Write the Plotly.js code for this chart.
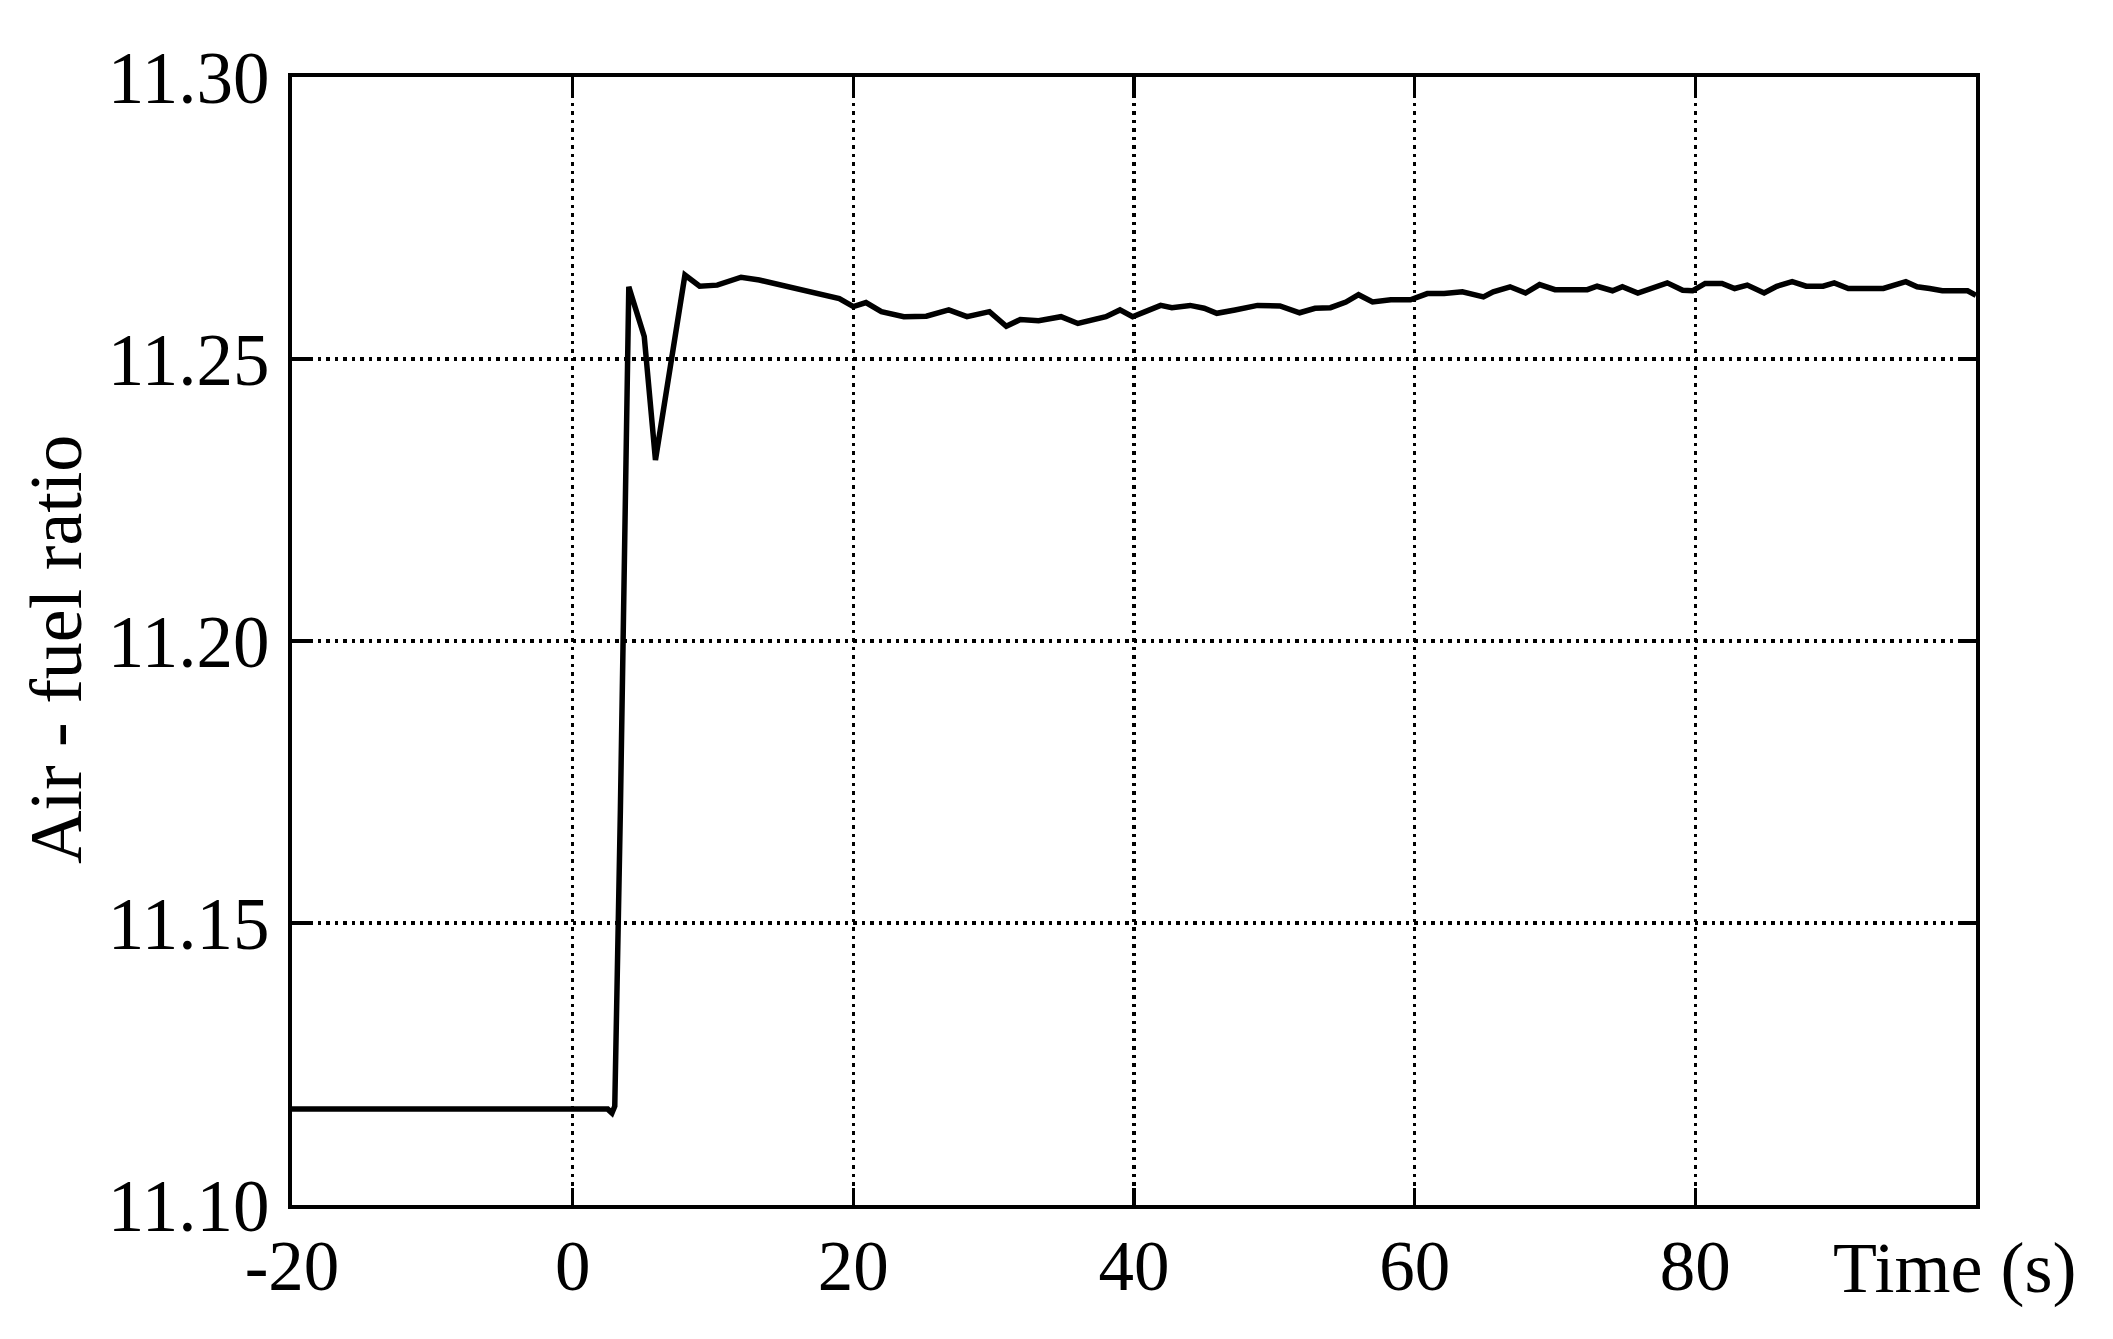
<!DOCTYPE html>
<html>
<head>
<meta charset="utf-8">
<script src="https://cdn.plot.ly/plotly-3.0.1.min.js"></script>
<style>
  html, body { margin: 0; padding: 0; background: #fff; }
  #chart { width: 2113px; height: 1339px; }
</style>
</head>
<body>
<div id="chart"></div>
<script>
var time = [-20, 2.5, 2.8, 3.0, 3.4, 3.75, 3.85, 4.0, 5.1, 5.9, 8.0, 9.05, 10.3, 12.0, 13.3,
  15.1, 16.3, 17.6, 19.0, 20.0, 20.9, 22.0, 23.6, 25.2, 26.8, 28.1, 29.7, 30.9, 31.9, 33.2,
  34.8, 36.0, 38.0, 39.0, 39.9, 40.8, 41.9, 42.7, 44.0, 45.0, 45.9, 47.2, 48.8, 50.4, 51.8,
  52.9, 54.0, 55.1, 56.0, 57.0, 58.3, 59.7, 60.9, 62.1, 63.4, 64.9, 65.6, 66.8, 67.9, 68.9,
  70.0, 72.3, 73.0, 74.1, 74.8, 75.9, 77.1, 78.0, 79.1, 79.8, 80.7, 81.9, 82.8, 83.7, 84.9,
  85.8, 86.9, 87.9, 89.1, 89.9, 90.9, 93.4, 95.0, 95.8, 96.7, 97.6, 99.4, 100.0];

var afr = [11.117, 11.117, 11.1163, 11.1175, 11.17, 11.225, 11.252, 11.2628, 11.254, 11.2321,
  11.2649, 11.2629, 11.2631, 11.2645, 11.264, 11.263, 11.2622, 11.2616, 11.2607, 11.2593,
  11.2600, 11.2584, 11.2575, 11.2576, 11.2587, 11.2575, 11.2584, 11.2558, 11.2570, 11.2568,
  11.2575, 11.2563, 11.2575, 11.2587, 11.2575, 11.2584, 11.2595, 11.2591, 11.2595, 11.2590,
  11.2581, 11.2587, 11.2595, 11.2594, 11.2582, 11.2590, 11.2591, 11.2601, 11.2614, 11.2601,
  11.2605, 11.2605, 11.2616, 11.2616, 11.2619, 11.2610, 11.2619, 11.2628, 11.2617, 11.2632,
  11.2623, 11.2623, 11.2629, 11.2621, 11.2628, 11.2617, 11.2628, 11.2635, 11.2622, 11.2621,
  11.2634, 11.2634, 11.2625, 11.2631, 11.2617, 11.2629, 11.2637, 11.2629, 11.2629, 11.2635,
  11.2625, 11.2625, 11.2637, 11.2628, 11.2625, 11.2621, 11.2621, 11.2613];

var xTicks = [-20, 0, 20, 40, 60, 80];
var xLabels = ['-20', '0', '20', '40', '60', '80'];
var yTicks = [11.10, 11.15, 11.20, 11.25, 11.30];

var serif = 'Liberation Serif, Times New Roman, serif';

var trace = {
  x: time,
  y: afr,
  type: 'scatter',
  mode: 'lines',
  line: { color: '#000', width: 5.5 },
  hoverinfo: 'x+y'
};

var layout = {
  width: 2113,
  height: 1339,
  margin: { l: 292, r: 137, t: 77, b: 134 },
  paper_bgcolor: '#fff',
  plot_bgcolor: '#fff',
  showlegend: false,
  font: { family: serif, size: 70, color: '#000' },
  xaxis: {
    range: [-20, 100],
    tickvals: xTicks,
    ticktext: xLabels,
    ticks: 'inside',
    ticklen: 17,
    tickwidth: 3.5,
    tickcolor: '#000',
    showline: true,
    linecolor: '#000',
    linewidth: 4,
    mirror: 'ticks',
    showgrid: true,
    gridcolor: '#000',
    gridwidth: 3.5,
    griddash: '3.5px,5px',
    zeroline: false,
    ticklabelstandoff: -4,
    tickfont: { family: serif, size: 71 }
  },
  yaxis: {
    range: [11.10, 11.30],
    tickvals: yTicks,
    tickformat: '.2f',
    ticks: 'inside',
    ticklen: 17,
    tickwidth: 3.5,
    tickcolor: '#000',
    showline: true,
    linecolor: '#000',
    linewidth: 4,
    mirror: 'ticks',
    showgrid: true,
    gridcolor: '#000',
    gridwidth: 3.5,
    griddash: '3.5px,5px',
    zeroline: false,
    ticklabelstandoff: 4,
    tickfont: { family: serif, size: 73 }
  },
  annotations: [{
    text: 'Air - fuel ratio',
    textangle: -90,
    xref: 'paper', yref: 'paper',
    x: -0.1401, y: 0.492,
    xanchor: 'center', yanchor: 'middle',
    showarrow: false,
    font: { family: serif, size: 74, color: '#000' }
  }, {
    text: 'Time (s)',
    xref: 'paper', yref: 'paper',
    x: 0.987, y: -0.056,
    xanchor: 'center', yanchor: 'middle',
    showarrow: false,
    font: { family: serif, size: 72, color: '#000' }
  }]
};

Plotly.newPlot('chart', [trace], layout, { displayModeBar: false, staticPlot: true });
</script>
</body>
</html>
